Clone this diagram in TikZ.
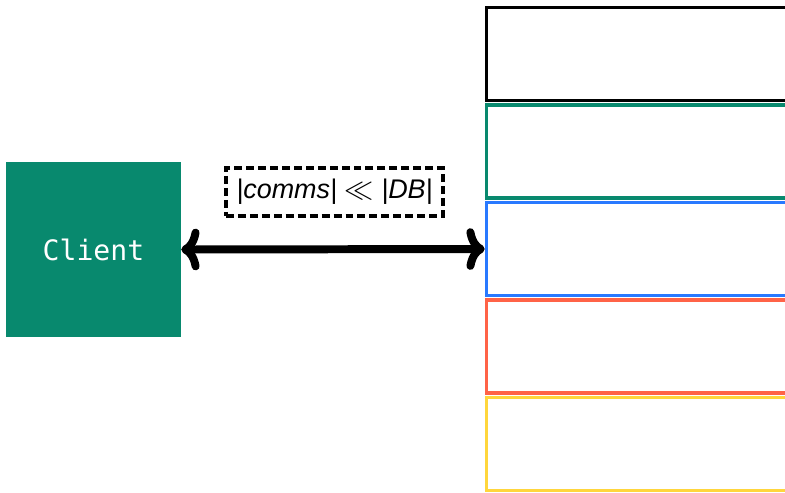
\documentclass[tikz,border=0pt]{standalone}
\usepackage{fontspec}
\usetikzlibrary{arrows.meta}

\newfontfamily\clientfont{DejaVu Sans Mono}
\newfontfamily\labelfont{Liberation Sans}

\definecolor{clientgreen}{RGB}{8,137,110}
\definecolor{shardblue}{RGB}{41,121,255}
\definecolor{shardred}{RGB}{255,99,71}
\definecolor{shardyellow}{RGB}{255,214,60}

\tikzset{
  client/.style={fill=clientgreen, minimum size=5.25cm, inner sep=0pt,
    text=white, font=\clientfont\fontsize{24}{28}\selectfont},
  shard/.style={line width=3pt, minimum width=9.9cm, minimum height=2.79cm,
    inner sep=0pt},
  commslabel/.style={draw, dashed, line width=3pt, dash pattern=on 6.8pt off 3.4pt,
    minimum width=6.51cm, minimum height=1.44cm,
    font=\labelfont\fontsize{23}{26}\selectfont\itshape},
  bothways/.style={line width=6.8pt,
    {Computer Modern Rightarrow[length=0.55cm, width=1.25cm, round]}-{Computer Modern Rightarrow[length=0.55cm, width=1.25cm, round]}},
}

\begin{document}
\begin{tikzpicture}[x=0.03cm, y=-0.03cm]
  \clip (0,0) rectangle (785,492);
  \useasboundingbox (0,0) rectangle (785,492);

  \node[client] (client) at (93.5,249.5) {Client};

  % stack of database shards, running off the right edge
  \foreach \col [count=\i from 0] in {black,clientgreen,shardblue,shardred,shardyellow}
    \node[shard, draw=\col] (shard\i) at (651.5,{54+97.5*\i}) {};

  \draw[bothways] (client.east) -- (shard2.west);
  \node[commslabel] (comms) at (334.5,192) {|comms| $\ll$ |DB|};
\end{tikzpicture}
\end{document}
